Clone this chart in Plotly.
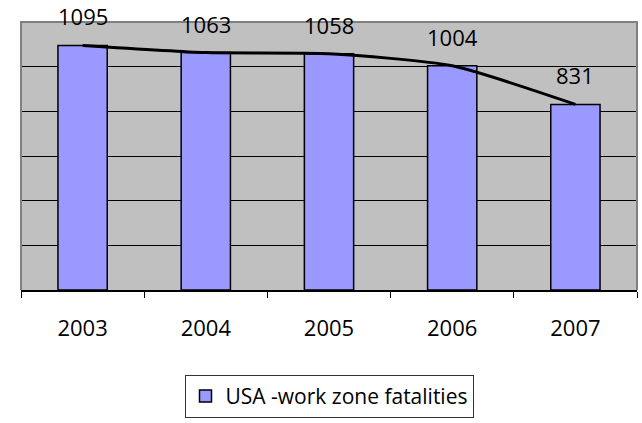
import plotly.graph_objects as go

years = ["2003", "2004", "2005", "2006", "2007"]
fatalities = [1095, 1063, 1058, 1004, 831]
series_name = "USA -work zone fatalities"

FONT = "Open Sans"

fig = go.Figure()
fig.add_trace(go.Bar(
    x=years, y=fatalities, name=series_name,
    marker=dict(color="#9999FF", line=dict(color="black", width=1.5)),
    width=0.4,
))
fig.add_trace(go.Scatter(
    x=years, y=fatalities, mode="lines", showlegend=False,
    line=dict(color="black", width=3, shape="spline", smoothing=0.6),
    hoverinfo="skip",
))

for i, v in enumerate(fatalities):
    fig.add_annotation(x=i, y=v, xref="x", yref="y", text=str(v),
                       showarrow=False, yanchor="bottom", yshift=12,
                       font=dict(family=FONT, size=22, color="black"))

fig.add_shape(type="path", xref="paper", yref="paper",
              path="M 0,0 L 0,1 L 1,1 L 1,0",
              line=dict(color="#808080", width=2), layer="above")

fig.update_layout(
    width=642, height=423,
    margin=dict(l=21, r=5, t=22, b=133),
    paper_bgcolor="white", plot_bgcolor="#C0C0C0",
    font=dict(family=FONT, size=22, color="black"),
    showlegend=True,
    legend=dict(x=0.5, xanchor="center", y=-0.317, yanchor="top",
                orientation="h", bgcolor="white",
                bordercolor="#333333", borderwidth=1,
                font=dict(family=FONT, size=21, color="black")),
)
fig.update_xaxes(type="category", showline=True, linecolor="black", linewidth=1.5,
                 ticks="outside", tickson="boundaries", ticklen=6,
                 tickcolor="black", ticklabelstandoff=18, showgrid=False,
                 range=[-0.5, 4.5])
fig.update_yaxes(range=[0, 1200], dtick=200, showgrid=True,
                 gridcolor="black", gridwidth=1, zeroline=False,
                 showticklabels=False, showline=False)

fig.write_html("out.html",
               config={"displayModeBar": False},
               post_script="document.body.style.margin='0px';document.body.style.padding='0px';")
